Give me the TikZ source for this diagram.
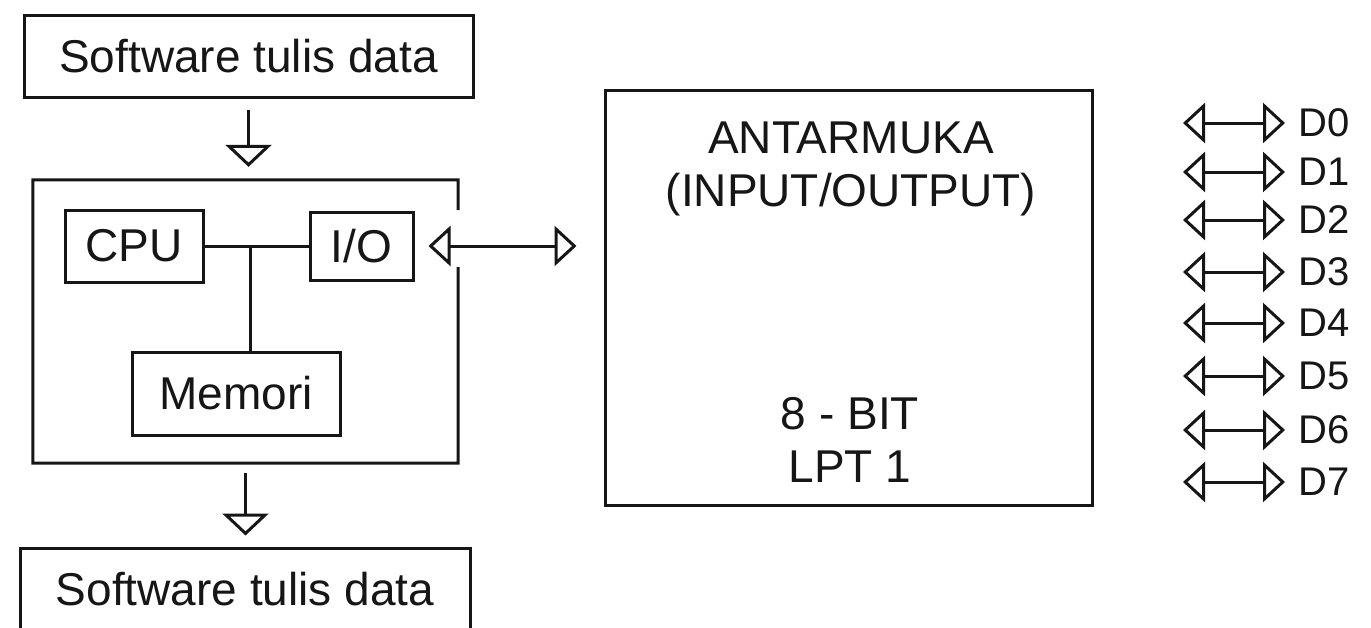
\documentclass[tikz,border=0pt]{standalone}
\usepackage{fontspec}
\setmainfont{Liberation Sans}
\usepackage{tikz}
\usetikzlibrary{arrows.meta,positioning}
\definecolor{ink}{HTML}{161616}
\tikzset{
  swbox/.style={rectangle,draw=ink,line width=3pt,text=ink,align=center,
    font=\fontsize{46}{52}\selectfont,minimum width=450pt,minimum height=82pt,inner sep=0pt},
  unitbox/.style={rectangle,draw=ink,line width=3pt,text=ink,align=center,
    font=\fontsize{46}{52}\selectfont,minimum height=70pt,inner sep=0pt},
  pcframe/.style={rectangle,inner sep=0pt},
  iotext/.style={text=ink,align=center,font=\fontsize{46}{53}\selectfont,inner sep=0pt},
  dlabel/.style={anchor=west,text=ink,font=\fontsize{40}{40}\selectfont,inner xsep=13pt,inner ysep=0pt},
  flowarr/.style={-{Triangle[open,length=22pt,width=46pt]},line width=3pt,color=ink},
  busarr/.style={{Triangle[open,length=22pt,width=40pt]}-{Triangle[open,length=22pt,width=40pt]},line width=3pt,color=ink},
  busline/.style={line width=3pt,color=ink},
}
\begin{document}
\begin{tikzpicture}[x=1pt,y=-1pt]
  \useasboundingbox (0,0) rectangle (1371,627);
  \node[swbox,minimum width=449pt] (swtop) at (248.5,56) {Software tulis data};
  \node[pcframe,minimum width=425pt,minimum height=283pt] (pc) at (245.5,321.5) {};
  \node[unitbox,minimum width=138pt,minimum height=72pt] (cpu) at (134,246) {CPU};
  \node[unitbox,minimum width=103pt,minimum height=68pt] (io) at (361.5,246) {I/O};
  \node[unitbox,minimum width=208pt,minimum height=83pt] (mem) at (236,393.5) {Memori};
  \node[swbox] (swbot) at (245,589) {Software tulis data};

  \node[swbox,minimum width=487pt,minimum height=415pt] (big) at (848.5,297.5) {};
  \node[iotext] (title) at (851,169) {ANTARMUKA\\(INPUT/OUTPUT)};
  \node[iotext] (bits) at (850,440) {8 - BIT\\LPT 1};

  \coordinate (gaptop) at (458,210);
  \coordinate (gapbot) at (458,267);
  \coordinate (bus) at (250,246);

  \coordinate (l0) at (1183,123); \node[dlabel] (d0) at (1285,123) {D0};
  \coordinate (l1) at (1183,172); \node[dlabel] (d1) at (1285,172) {D1};
  \coordinate (l2) at (1183,220); \node[dlabel] (d2) at (1285,220) {D2};
  \coordinate (l3) at (1183,272); \node[dlabel] (d3) at (1285,272) {D3};
  \coordinate (l4) at (1183,323); \node[dlabel] (d4) at (1285,323) {D4};
  \coordinate (l5) at (1183,376); \node[dlabel] (d5) at (1285,376) {D5};
  \coordinate (l6) at (1183,430); \node[dlabel] (d6) at (1285,430) {D6};
  \coordinate (l7) at (1183,482); \node[dlabel] (d7) at (1285,482) {D7};

  \draw[busline] (gaptop) -- (pc.north east) -- (pc.north west) -- (pc.south west) -- (pc.south east) -- (gapbot);
  \draw[flowarr,shorten <=11pt,shorten >=13pt] (swtop.south) -- (swtop.south |- pc.north);
  \draw[flowarr,shorten <=10pt,shorten >=11pt] (pc.south) -- (pc.south |- swbot.north);
  \draw[busline] (cpu) -- (io);
  \draw[busline] (bus) -- (bus |- mem.north);
  \draw[busarr,shorten <=14pt,shorten >=27pt] (io.east) -- (io.east -| big.west);

  \draw[busarr] (l0) -- (d0);
  \draw[busarr] (l1) -- (d1);
  \draw[busarr] (l2) -- (d2);
  \draw[busarr] (l3) -- (d3);
  \draw[busarr] (l4) -- (d4);
  \draw[busarr] (l5) -- (d5);
  \draw[busarr] (l6) -- (d6);
  \draw[busarr] (l7) -- (d7);
\end{tikzpicture}
\end{document}
